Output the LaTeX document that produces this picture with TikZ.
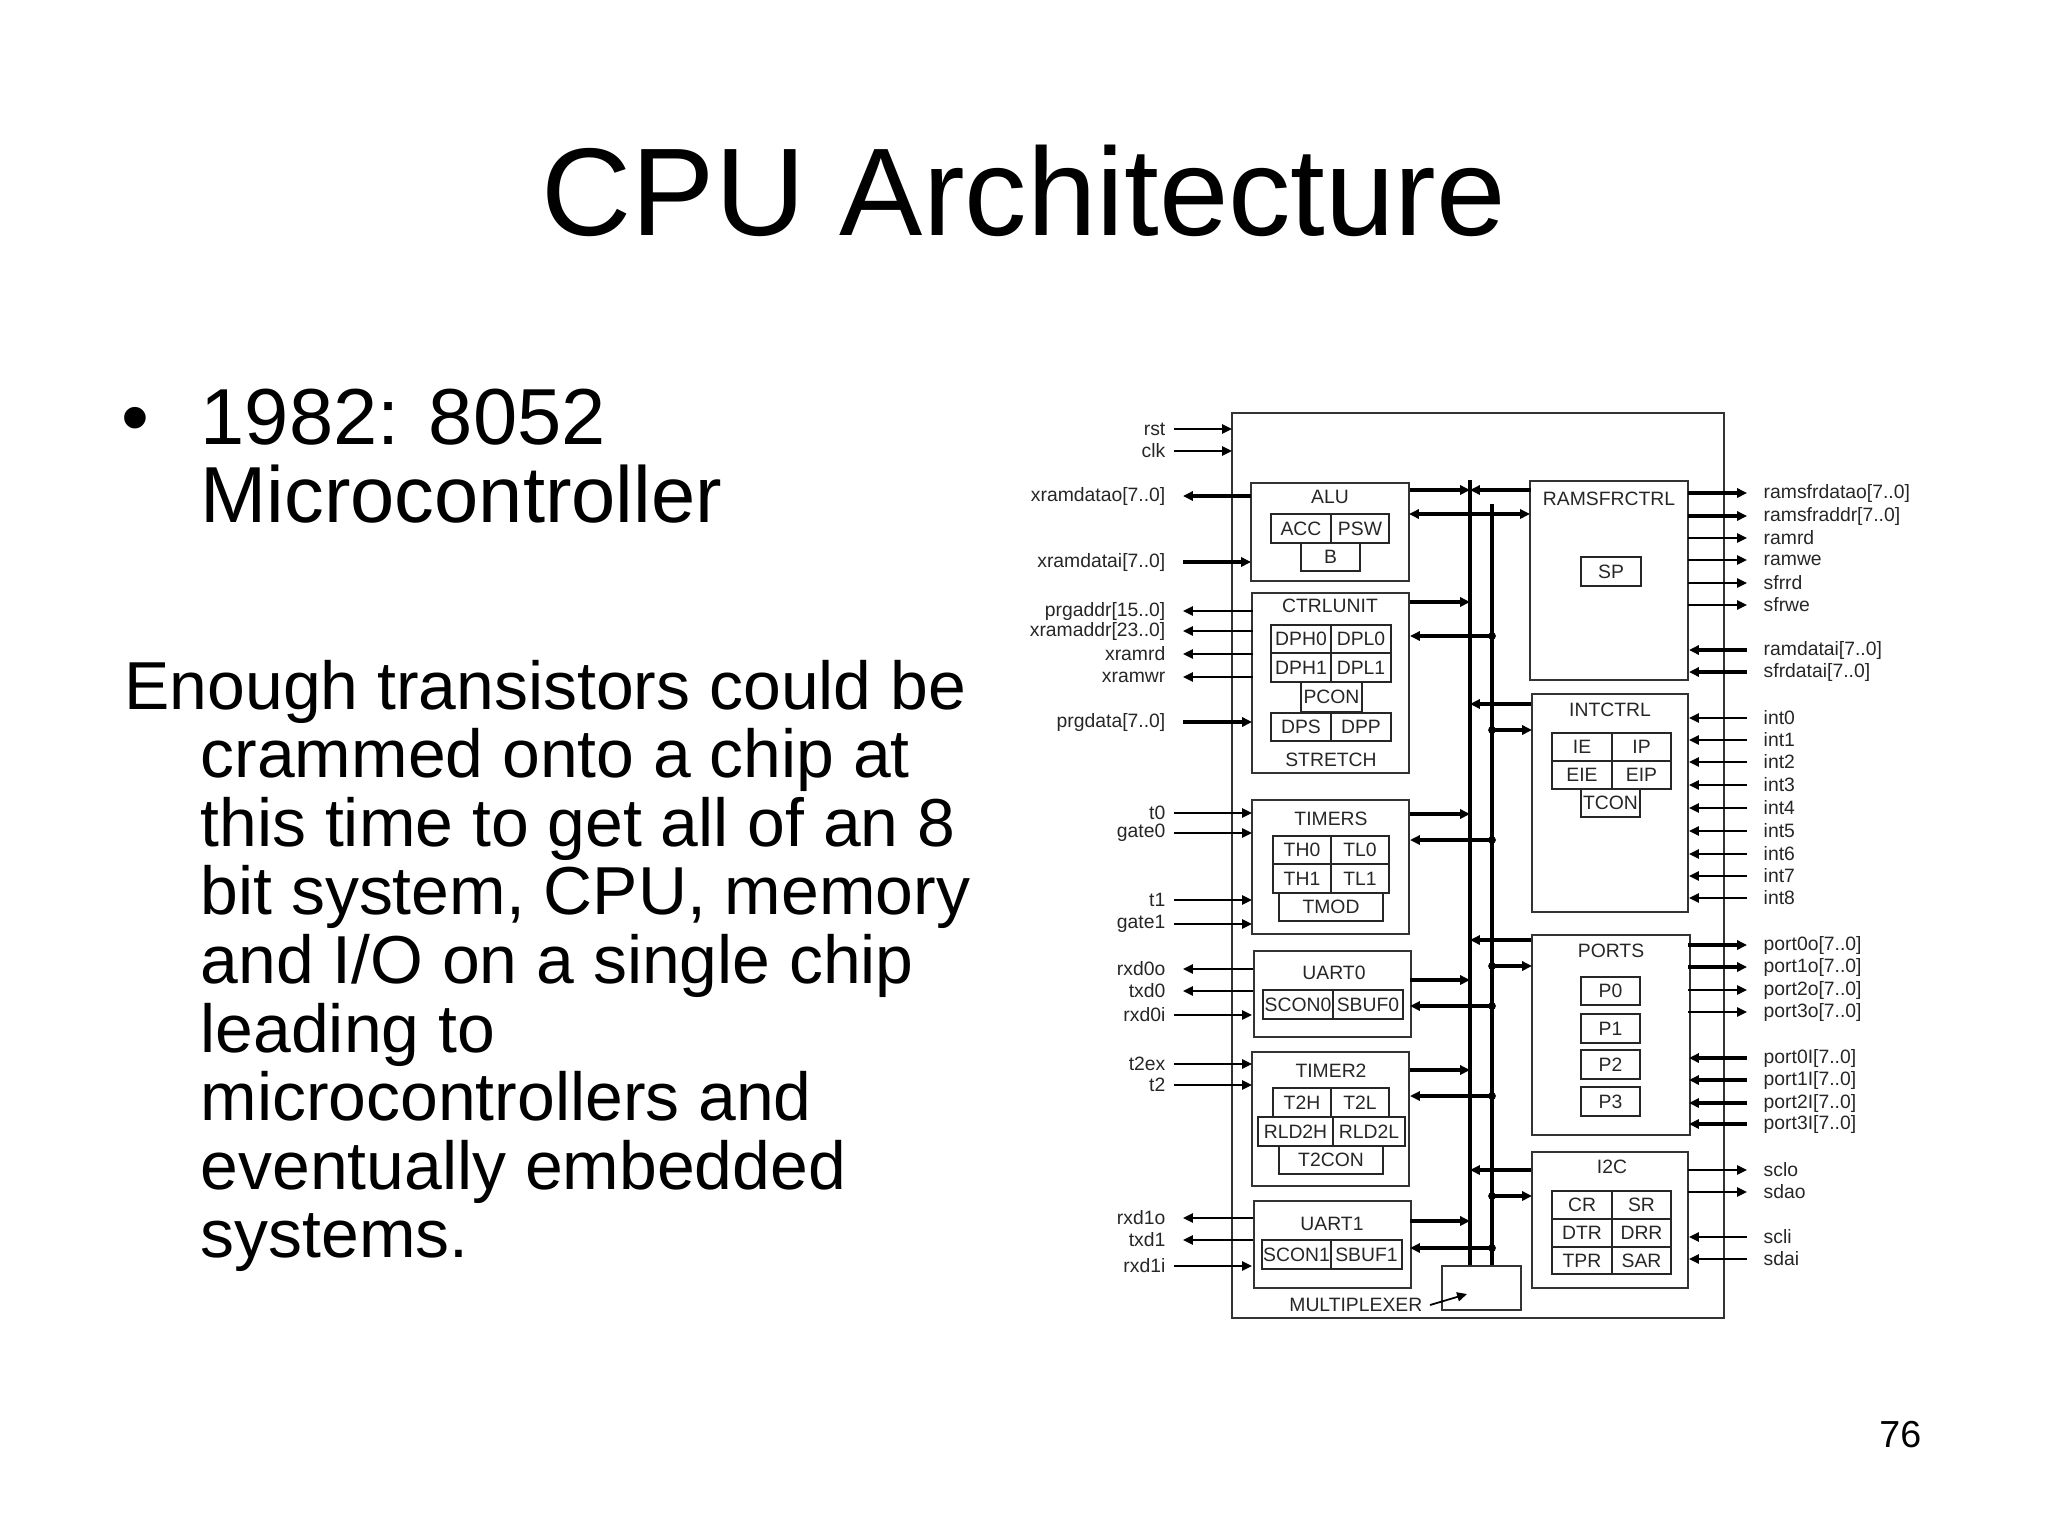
\documentclass[tikz,border=0pt]{standalone}
\usepackage{fontspec}
\setmainfont{Liberation Sans}
\usetikzlibrary{arrows.meta}
\tikzset{
  tip/.style={-{Triangle[length=2.8pt,width=2.6pt]}},
  dtip/.style={{Triangle[length=2.8pt,width=2.6pt]}-{Triangle[length=2.8pt,width=2.6pt]}},
  thin sig/.style={line width=0.5pt, black},
  thick sig/.style={line width=1.1pt, black},
  blk/.style={line width=0.7pt, draw=black!80},
  cellbox/.style={line width=0.7pt, draw=black!85},
  lbl/.style={font=\fontsize{5.5}{6}\selectfont, text=black!85, inner sep=0pt},
  llbl/.style={lbl, anchor=east},
  rlbl/.style={lbl, anchor=west},
  dot/.style={circle, fill=black, inner sep=0pt, minimum size=2.2pt},
}
\newcommand{\mycell}[5]{\draw[cellbox] (#1,#2) rectangle (#3,#4);
  \node[lbl] at ({(#1+#3)/2},{(#2+#4)/2}) {#5};}
\newcommand{\myblk}[5]{\draw[blk] (#2,#3) rectangle (#4,#5);
  \coordinate (#1-nw) at (#2,#3); \coordinate (#1-se) at (#4,#5);}
\begin{document}
\begin{tikzpicture}[x=0.01cm,y=-0.01cm]
\useasboundingbox (0,0) rectangle (2048,1536);
% title
\node[anchor=base, font=\fontsize{35.5}{38}\selectfont, inner sep=0pt] (title) at (1024,235) {CPU Architecture};
% bullet
\node[anchor=base, font=\fontsize{22.6}{24}\selectfont, inner sep=0pt] (bul) at (135,444) {•};
\node[anchor=base west, font=\fontsize{22.6}{24}\selectfont, inner sep=0pt] (b1) at (200,444) {1982: 8052};
\node[anchor=base west, font=\fontsize{22.6}{24}\selectfont, inner sep=0pt] (b2) at (200,522) {Microcontroller};
% body
\node[anchor=base west, font=\fontsize{19.3}{20}\selectfont, inner sep=0pt] (t0) at (124,709) {Enough transistors could be};
\foreach \s [count=\i] in {crammed onto a chip at,this time to get all of an 8,{bit system, CPU, memory},and I/O on a single chip,leading to,microcontrollers and,eventually embedded,systems.}
  \node[anchor=base west, font=\fontsize{19.3}{20}\selectfont, inner sep=0pt] (t\i) at (200,{709+68.6*\i}) {\s};
\node[anchor=base east, font=\fontsize{10.7}{12}\selectfont, inner sep=0pt] (pg) at (1922,1447) {76};

% outer chip
\myblk{chip}{1232}{413}{1724}{1318}
% bus
\draw[line width=1.3pt] (1470,480) coordinate (busA) -- (1470,1266) coordinate (busAe);
\draw[line width=1.0pt] (1492,504) coordinate (busB) -- (1492,1266) coordinate (busBe);

% ALU
\myblk{alu}{1251}{483}{1409}{581}
\node[lbl] (alut) at (1330,497) {ALU};
\mycell{1271}{514}{1331}{543}{ACC}
\mycell{1331}{514}{1389}{543}{PSW}
\mycell{1301}{543}{1360}{571}{B}
% CTRLUNIT
\myblk{ctrl}{1252}{593}{1409}{773}
\node[lbl] (ctrlt) at (1330,606) {CTRLUNIT};
\mycell{1271}{625}{1331}{653}{DPH0}
\mycell{1331}{625}{1391}{653}{DPL0}
\mycell{1271}{653}{1331}{682}{DPH1}
\mycell{1331}{653}{1391}{682}{DPL1}
\mycell{1301}{682}{1362}{712}{PCON}
\mycell{1271}{713}{1331}{741}{DPS}
\mycell{1331}{713}{1391}{741}{DPP}
\node[lbl] (stretch) at (1331,760) {STRETCH};
% TIMERS
\myblk{tim}{1252}{800}{1409}{934}
\node[lbl] (timt) at (1331,819) {TIMERS};
\mycell{1273}{836}{1331}{864}{TH0}
\mycell{1331}{836}{1389}{864}{TL0}
\mycell{1273}{864}{1331}{893}{TH1}
\mycell{1331}{864}{1389}{893}{TL1}
\mycell{1279}{893}{1383}{921}{TMOD}
% UART0
\myblk{u0}{1254}{951}{1411}{1037}
\node[lbl] (u0t) at (1334,973) {UART0};
\mycell{1263}{990}{1333}{1019}{SCON0}
\mycell{1333}{990}{1403}{1019}{SBUF0}
% TIMER2
\myblk{t2}{1252}{1052}{1409}{1186}
\node[lbl] (t2t) at (1331,1071) {TIMER2};
\mycell{1273}{1088}{1331}{1117}{T2H}
\mycell{1331}{1088}{1389}{1117}{T2L}
\mycell{1258}{1117}{1333}{1146}{RLD2H}
\mycell{1333}{1117}{1405}{1146}{RLD2L}
\mycell{1279}{1146}{1383}{1174}{T2CON}
% UART1
\myblk{u1}{1254}{1201}{1411}{1288}
\node[lbl] (u1t) at (1332,1224) {UART1};
\mycell{1262}{1240}{1331}{1269}{SCON1}
\mycell{1331}{1240}{1402}{1269}{SBUF1}
% RAMSFRCTRL
\myblk{ram}{1530}{481}{1688}{680}
\node[lbl] (ramt) at (1609,499) {RAMSFRCTRL};
\mycell{1581}{557}{1641}{586}{SP}
% INTCTRL
\myblk{int}{1532}{694}{1688}{912}
\node[lbl] (intt) at (1610,710) {INTCTRL};
\mycell{1552}{733}{1612}{761}{IE}
\mycell{1612}{733}{1671}{761}{IP}
\mycell{1552}{761}{1612}{789}{EIE}
\mycell{1612}{761}{1671}{789}{EIP}
\mycell{1581}{789}{1640}{817}{TCON}
% PORTS
\myblk{ports}{1532}{935}{1690}{1135}
\node[lbl] (portst) at (1611,951) {PORTS};
\mycell{1581}{977}{1640}{1005}{P0}
\mycell{1581}{1014}{1640}{1043}{P1}
\mycell{1581}{1050}{1640}{1079}{P2}
\mycell{1581}{1087}{1640}{1116}{P3}
% I2C
\myblk{i2c}{1532}{1152}{1688}{1288}
\node[lbl] (i2ct) at (1612,1167) {I2C};
\mycell{1552}{1191}{1612}{1219}{CR}
\mycell{1612}{1191}{1671}{1219}{SR}
\mycell{1552}{1219}{1612}{1247}{DTR}
\mycell{1612}{1219}{1671}{1247}{DRR}
\mycell{1552}{1247}{1612}{1274}{TPR}
\mycell{1612}{1247}{1671}{1274}{SAR}
% multiplexer
\myblk{mux}{1442}{1266}{1521}{1310}
\node[lbl, anchor=east] (muxl) at (1423,1305) {MULTIPLEXER};
\draw[thin sig, tip] (muxl.east) ++(2pt,0) -- (1467,1294);

% left-side signals
\foreach \y/\t in {429/rst,451/clk} {
  \node[llbl] at (1166,\y) {\t};
  \draw[thin sig, tip] (1174,\y) -- (chip-nw |- 0,\y);
}
\foreach \y/\t in {813/t0,833/gate0,900/t1,924/gate1,1015/rxd0i,1064/t2ex,1085/t2,1266/rxd1i} {
  \node[llbl] at (1166,\y) {\t};
  \draw[thin sig, tip] (1174,\y) -- (1252,\y);
}
\foreach \y/\t in {611/{prgaddr[15..0]},631/{xramaddr[23..0]},654/xramrd,677/xramwr,969/rxd0o,991/txd0,1218/rxd1o,1240/txd1} {
  \node[llbl] at (1166,\y) {\t};
  \draw[thin sig, tip] (1253,\y) -- (1183,\y);
}
\node[llbl] (Lxo) at (1166,496) {xramdatao[7..0]};
\draw[thick sig, tip] (alu-nw |- 0,496) -- (1183,496);
\node[llbl] (Lxi) at (1166,562) {xramdatai[7..0]};
\draw[thick sig, tip] (1183,562) -- (alu-nw |- 0,562);
\node[llbl] (Lpd) at (1166,722) {prgdata[7..0]};
\draw[thick sig, tip] (1183,722) -- (ctrl-nw |- 0,722);

% left blocks to/from bus
\foreach \o in {490,602,814,980,1070,1221} {
  \draw[thick sig, tip] (1410,\o) -- (busA |- 0,\o);
}
\foreach \i in {636,840,1006,1096,1248} {
  \draw[thick sig, tip] (busB |- 0,\i) -- (1410,\i);
  \node[dot] at (busB |- 0,\i) {};
}
\draw[thick sig, dtip] (alu-se |- 0,514) -- (ram-nw |- 0,514);
% right blocks to/from bus
\foreach \o in {490,704,940,1170} {
  \draw[thick sig, tip] (1531,\o) -- (busA |- 0,\o);
}
\foreach \i in {730,966,1196} {
  \draw[thick sig, tip] (busB |- 0,\i) -- (1532,\i);
  \node[dot] at (busB |- 0,\i) {};
}

% right-side signals
\foreach \y/\t/\w in {493/{ramsfrdatao[7..0]}/thick sig,516/{ramsfraddr[7..0]}/thick sig,538/ramrd/thin sig,560/ramwe/thin sig,583/sfrrd/thin sig,605/sfrwe/thin sig,945/{port0o[7..0]}/thick sig,967/{port1o[7..0]}/thick sig,990/{port2o[7..0]}/thin sig,1012/{port3o[7..0]}/thin sig,1170/sclo/thin sig,1192/sdao/thin sig} {
  \node[rlbl] at (1763,\y) {\t};
  \draw[\w, tip] (1688,\y) -- (1747,\y);
}
\foreach \y/\t/\w in {650/{ramdatai[7..0]}/thick sig,672/{sfrdatai[7..0]}/thick sig,718/int0/thin sig,740/int1/thin sig,762/int2/thin sig,785/int3/thin sig,808/int4/thin sig,831/int5/thin sig,854/int6/thin sig,876/int7/thin sig,898/int8/thin sig,1058/{port0I[7..0]}/thick sig,1080/{port1I[7..0]}/thick sig,1103/{port2I[7..0]}/thick sig,1124/{port3I[7..0]}/thick sig,1237/scli/thin sig,1259/sdai/thin sig} {
  \node[rlbl] at (1763,\y) {\t};
  \draw[\w, tip] (1747,\y) -- (1689,\y);
}
\end{tikzpicture}
\end{document}
